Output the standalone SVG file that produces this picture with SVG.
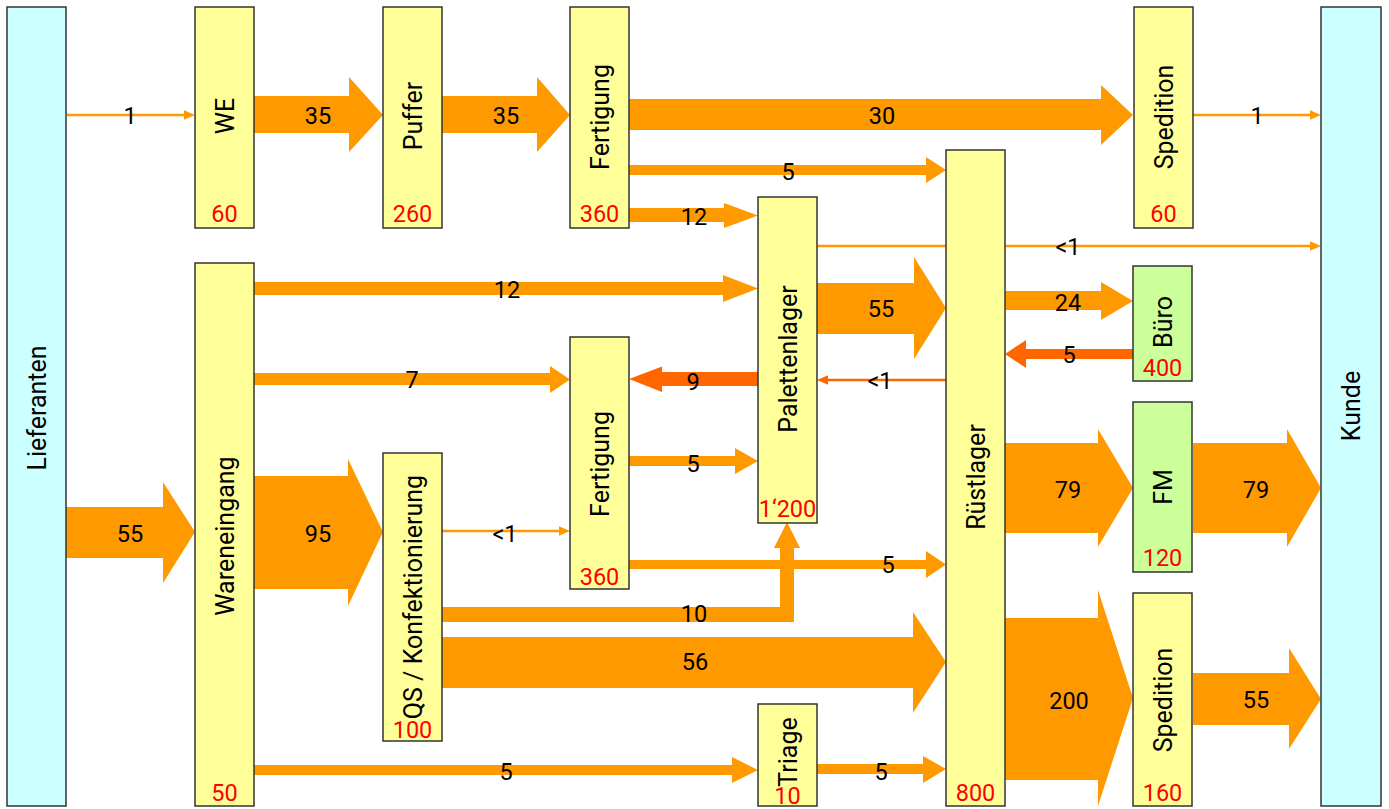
<svg xmlns="http://www.w3.org/2000/svg" width="1389" height="809" viewBox="0 0 1389 809">
<style>
.ext{fill:#CCFFFF;stroke:#333;stroke-width:1.5}
.box{fill:#FFFF99;stroke:#333;stroke-width:1.5}
.grn{fill:#CCFF99;stroke:#333;stroke-width:1.5}
.nl{font-family:Roboto,"Liberation Sans",sans-serif;font-size:25px;fill:#000;text-anchor:middle}
.cap{font-family:Roboto,"Liberation Sans",sans-serif;font-size:23.5px;fill:#FF0000;text-anchor:middle}
.fl{font-family:Roboto,"Liberation Sans",sans-serif;font-size:23.5px;fill:#000;text-anchor:middle}
.ba{fill:#FF9900}
.bd{fill:#FF6600}
.tl{stroke:#FF9900;stroke-width:2.5;fill:none}
.td{stroke:#FF6600;stroke-width:2.5;fill:none}
</style>
<defs>
<marker id="ha" markerUnits="userSpaceOnUse" markerWidth="12" markerHeight="10" refX="0" refY="5" orient="auto"><path d="M0,0.3 L11,5 L0,9.7 Z" fill="#FF9900"/></marker>
<marker id="hd" markerUnits="userSpaceOnUse" markerWidth="12" markerHeight="10" refX="0" refY="5" orient="auto"><path d="M0,0.3 L11,5 L0,9.7 Z" fill="#FF6600"/></marker>
</defs>
<g id="connectors">
<line class="tl" x1="67" y1="115" x2="184" y2="115" marker-end="url(#ha)"/>
<line class="tl" x1="1193" y1="115" x2="1310" y2="115" marker-end="url(#ha)"/>
<line class="tl" x1="817" y1="246" x2="1310" y2="246" marker-end="url(#ha)"/>
<line class="td" x1="946" y1="380" x2="828" y2="380" marker-end="url(#hd)"/>
<line class="tl" x1="442" y1="531" x2="559" y2="531" marker-end="url(#ha)"/>
<polygon class="ba" points="254,96 349,96 349,77 383,115 349,152 349,133 254,133"/>
<polygon class="ba" points="442,96 537,96 537,77 570,115 537,152 537,133 442,133"/>
<polygon class="ba" points="629,99 1101,99 1101,85 1133,115 1101,145 1101,130 629,130"/>
<polygon class="ba" points="629,165 926,165 926,157 946,170 926,183 926,175 629,175"/>
<polygon class="ba" points="629,208 724,208 724,203 758,215.5 724,228 724,222 629,222"/>
<polygon class="ba" points="254,282 723,282 723,275 758,288.5 723,302 723,295 254,295"/>
<polygon class="ba" points="254,373 550,373 550,366 570,379.5 550,393 550,385 254,385"/>
<polygon class="bd" points="758,372 662,372 662,366.5 629,379 662,392 662,386 758,386"/>
<polygon class="ba" points="817,283 914,283 914,257 946,308 914,359 914,334 817,334"/>
<polygon class="ba" points="1005,291 1101,291 1101,282 1133,301 1101,320 1101,310 1005,310"/>
<polygon class="bd" points="1133,349 1026,349 1026,340 1005,354 1026,368 1026,359 1133,359"/>
<polygon class="ba" points="629,456 735,456 735,448 758,461 735,474 735,466 629,466"/>
<polygon class="ba" points="1005,443 1098,443 1098,429 1133,488 1098,547 1098,533 1005,533"/>
<polygon class="ba" points="1193,443 1287,443 1287,429 1321,488 1287,547 1287,533 1193,533"/>
<polygon class="ba" points="66,507 163,507 163,482 195,532 163,583 163,558 66,558"/>
<polygon class="ba" points="254,476 348,476 348,459 383,532 348,606 348,589 254,589"/>
<polygon class="ba" points="629,560 926,560 926,551 946,564.5 926,578 926,569 629,569"/>
<polygon class="ba" points="442,607 780,607 780,548 774,548 787,522 800,548 794,548 794,622 442,622"/>
<polygon class="ba" points="442,637 913,637 913,612 946,662 913,713 913,688 442,688"/>
<polygon class="ba" points="254,765 732,765 732,757 758,770 732,783 732,775 254,775"/>
<polygon class="ba" points="817,764 923,764 923,756 946,769 923,783 923,774 817,774"/>
<polygon class="ba" points="1005,618 1098,618 1098,590 1133,698 1098,806 1098,780 1005,780"/>
<polygon class="ba" points="1193,673 1289,673 1289,648 1321,699 1289,749 1289,725 1193,725"/>
<text class="fl" x="130" y="124">1</text>
<text class="fl" x="318" y="124">35</text>
<text class="fl" x="506" y="124">35</text>
<text class="fl" x="882" y="124">30</text>
<text class="fl" x="1257" y="124">1</text>
<text class="fl" x="788" y="180">5</text>
<text class="fl" x="694" y="225">12</text>
<text class="fl" x="1068" y="255">&lt;1</text>
<text class="fl" x="507" y="298">12</text>
<text class="fl" x="881" y="317">55</text>
<text class="fl" x="1068" y="311">24</text>
<text class="fl" x="1069" y="363">5</text>
<text class="fl" x="412" y="388">7</text>
<text class="fl" x="693" y="390">9</text>
<text class="fl" x="880" y="389">&lt;1</text>
<text class="fl" x="693" y="472">5</text>
<text class="fl" x="1068" y="498">79</text>
<text class="fl" x="1256" y="498">79</text>
<text class="fl" x="130" y="542">55</text>
<text class="fl" x="318" y="542">95</text>
<text class="fl" x="505" y="542">&lt;1</text>
<text class="fl" x="888" y="573">5</text>
<text class="fl" x="694" y="622">10</text>
<text class="fl" x="695" y="670">56</text>
<text class="fl" x="1069" y="709">200</text>
<text class="fl" x="1256" y="708">55</text>
<text class="fl" x="506" y="780">5</text>
<text class="fl" x="881" y="780">5</text>
</g>
<g id="lieferanten"><rect class="ext" x="7" y="7" width="59" height="799"/><text class="nl" transform="translate(46,408) rotate(-90)">Lieferanten</text></g>
<g id="we"><rect class="box" x="195" y="7" width="59" height="221"/><text class="nl" transform="translate(234,116) rotate(-90)">WE</text><text class="cap" x="224.5" y="222">60</text></g>
<g id="puffer"><rect class="box" x="383" y="7" width="59" height="221"/><text class="nl" transform="translate(422,116) rotate(-90)">Puffer</text><text class="cap" x="412.5" y="222">260</text></g>
<g id="fertigung1"><rect class="box" x="570" y="7" width="59" height="221"/><text class="nl" transform="translate(609,117) rotate(-90)">Fertigung</text><text class="cap" x="599.5" y="222">360</text></g>
<g id="spedition1"><rect class="box" x="1134" y="7" width="59" height="221"/><text class="nl" transform="translate(1173,117) rotate(-90)">Spedition</text><text class="cap" x="1163.5" y="222">60</text></g>
<g id="kunde"><rect class="ext" x="1321" y="7" width="60" height="799"/><text class="nl" transform="translate(1360,406) rotate(-90)">Kunde</text></g>
<g id="palettenlager"><rect class="box" x="758" y="197" width="59" height="326"/><text class="nl" transform="translate(797,359) rotate(-90)">Palettenlager</text><text class="cap" x="787.5" y="517">1‘200</text></g>
<g id="ruestlager"><rect class="box" x="946" y="150" width="59" height="656"/><text class="nl" transform="translate(985,477) rotate(-90)">Rüstlager</text><text class="cap" x="975.5" y="801">800</text></g>
<g id="buero"><rect class="grn" x="1133" y="266" width="59" height="115"/><text class="nl" transform="translate(1172,322) rotate(-90)">Büro</text><text class="cap" x="1162.5" y="376">400</text></g>
<g id="fm"><rect class="grn" x="1133" y="402" width="59" height="170"/><text class="nl" transform="translate(1172,487) rotate(-90)">FM</text><text class="cap" x="1162.5" y="566">120</text></g>
<g id="spedition2"><rect class="box" x="1133" y="593" width="59" height="213"/><text class="nl" transform="translate(1172,700) rotate(-90)">Spedition</text><text class="cap" x="1162.5" y="801">160</text></g>
<g id="wareneingang"><rect class="box" x="195" y="263" width="59" height="543"/><text class="nl" transform="translate(234,536) rotate(-90)">Wareneingang</text><text class="cap" x="224.5" y="801">50</text></g>
<g id="qs"><rect class="box" x="383" y="453" width="59" height="288"/><text class="nl" transform="translate(422,597) rotate(-90)">QS / Konfektionierung</text><text class="cap" x="412.5" y="738">100</text></g>
<g id="fertigung2"><rect class="box" x="570" y="337" width="59" height="252"/><text class="nl" transform="translate(609,464) rotate(-90)">Fertigung</text><text class="cap" x="599.5" y="585">360</text></g>
<g id="triage"><rect class="box" x="758" y="704" width="59" height="102"/><text class="nl" transform="translate(797,752) rotate(-90)">Triage</text><text class="cap" x="787.5" y="804">10</text></g>
</svg>
